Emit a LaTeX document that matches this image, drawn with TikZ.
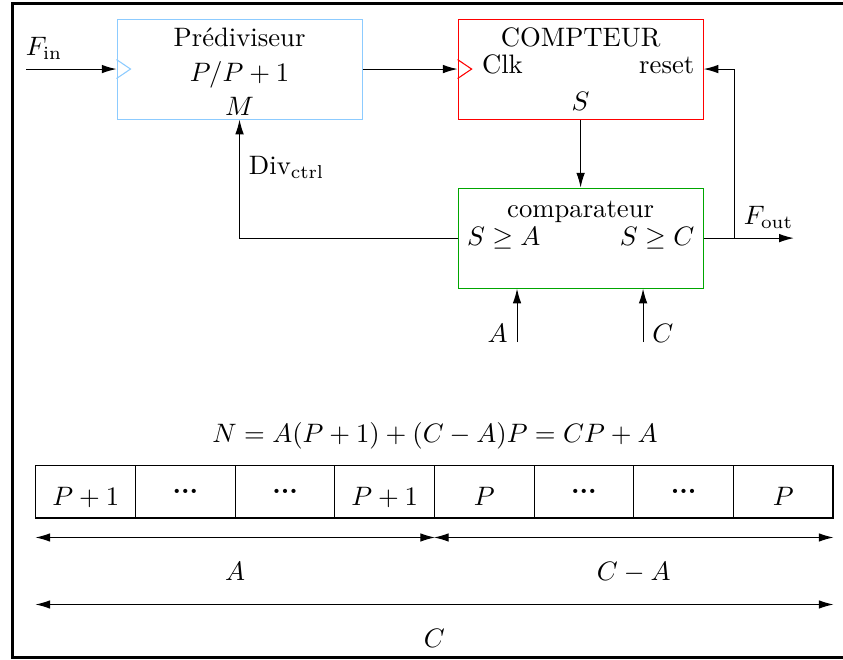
\documentclass[tikz,border=0pt]{standalone}
\usepackage{amsmath,amssymb}
\usetikzlibrary{arrows.meta,positioning}

\begin{document}
\begin{tikzpicture}[x=1cm,y=1cm,>={Latex[length=5.5pt,width=3.2pt]},
  blok/.style={draw,minimum width=3.229cm,minimum height=1.318cm,inner sep=0pt},
  cellP/.style={draw,minimum width=1.313cm,minimum height=0.697cm,inner sep=0pt,
    text height=10.5pt,text depth=0pt},
  cellD/.style={draw,minimum width=1.313cm,minimum height=0.697cm,inner sep=0pt}]

% colors
\colorlet{cPre}{blue!45!cyan!45}
\colorlet{cCpt}{red}
\colorlet{cCmp}{green!65!black}

% page and frame (open on the right)
\useasboundingbox (0,0) rectangle (11.11,8.686);
\draw[line width=1.2pt] (11.11,8.636) -- (0.165,8.636) -- (0.165,0.026) -- (11.11,0.026);

% three blocks
\node[blok,cPre] (pre) at (3.157,7.776) {};
\node[blok,cCpt,right=1.252cm of pre] (cpt) {};
\node[blok,cCmp,below=0.896cm of cpt] (cmp) {};

% clock inputs
\foreach \b/\c in {pre/cPre,cpt/cCpt}{
  \draw[\c] ([yshift=0.125cm]\b.west) -- ++(0.185,-0.125) -- ++(-0.185,-0.125);
}

% block texts
\node[below=0pt of pre.north] (preT) {Prédiviseur};
\node[yshift=-0.08cm] (preP) at (pre.center) {$P/P+1$};
\node[above=0pt of pre.south,inner sep=1.5pt] (preM) {$M$};

\node[below=0pt of cpt.north] (cptT) {COMPTEUR};
\node[anchor=base west] (cptClk) at ([xshift=0.198cm,yshift=-0.06cm]cpt.west) {Clk};
\node[anchor=base east] (cptRst) at ([yshift=-0.06cm]cpt.east) {reset};
\node[above=0pt of cpt.south] (cptS) {$S$};

\node[below=0.05cm of cmp.north] (cmpT) {comparateur};
\node[anchor=west] (cmpA) at (cmp.west) {$S\geq A$};
\node[anchor=east] (cmpC) at (cmp.east) {$S\geq C$};

% connections
\coordinate (fin) at (0.343,7.776);
\draw[->] (fin) -- node[above,pos=0.2] (lFin) {$F_{\text{in}}$} (pre.west);
\draw[->] (pre.east) -- (cpt.west);
\draw[->] (cpt.south) -- (cmp.north);
\draw[->] (cmp.west) -| node[right,pos=0.8] (lDiv) {Div$_{\text{ctrl}}$} (pre.south);

\coordinate (fout) at ([xshift=1.188cm]cmp.east);
\draw[->] (cmp.east) -- coordinate[pos=0.344] (br)
  node[above,pos=0.72] (lFout) {$F_{\text{out}}$} (fout);
\draw[->] (br) |- (cpt.east);

\coordinate (ina) at (6.814,4.178);
\coordinate (inc) at (8.475,4.178);
\draw[->] (ina) node[anchor=base east] (lA) {$A$} -- (ina |- cmp.south);
\draw[->] (inc) node[anchor=base west] (lC) {$C$} -- (inc |- cmp.south);

% division count
\node (eqN) at (5.733,2.939) {$N=A(P+1)+(C-A)P=CP+A$};
\foreach \lab/\st [count=\i] in {$P+1$/cellP,\textbf{...}/cellD,\textbf{...}/cellD,$P+1$/cellP,
    $P$/cellP,\textbf{...}/cellD,\textbf{...}/cellD,$P$/cellP}{
  \node[\st] (c\i) at ({0.474+1.313*(\i-0.5)},2.208) {\lab};
}

% spans
\draw[<->] ([yshift=-0.25cm]c1.south west) -- node[below=0.2cm] (sA) {$A$}
  ([yshift=-0.25cm]c4.south east);
\draw[<->] ([yshift=-0.25cm]c5.south west) -- node[below=0.2cm] (sCA) {$C-A$}
  ([yshift=-0.25cm]c8.south east);
\draw[<->] ([yshift=-1.133cm]c1.south west) -- node[below=0.2cm] (sC) {$C$}
  ([yshift=-1.133cm]c8.south east);

\end{tikzpicture}
\end{document}
